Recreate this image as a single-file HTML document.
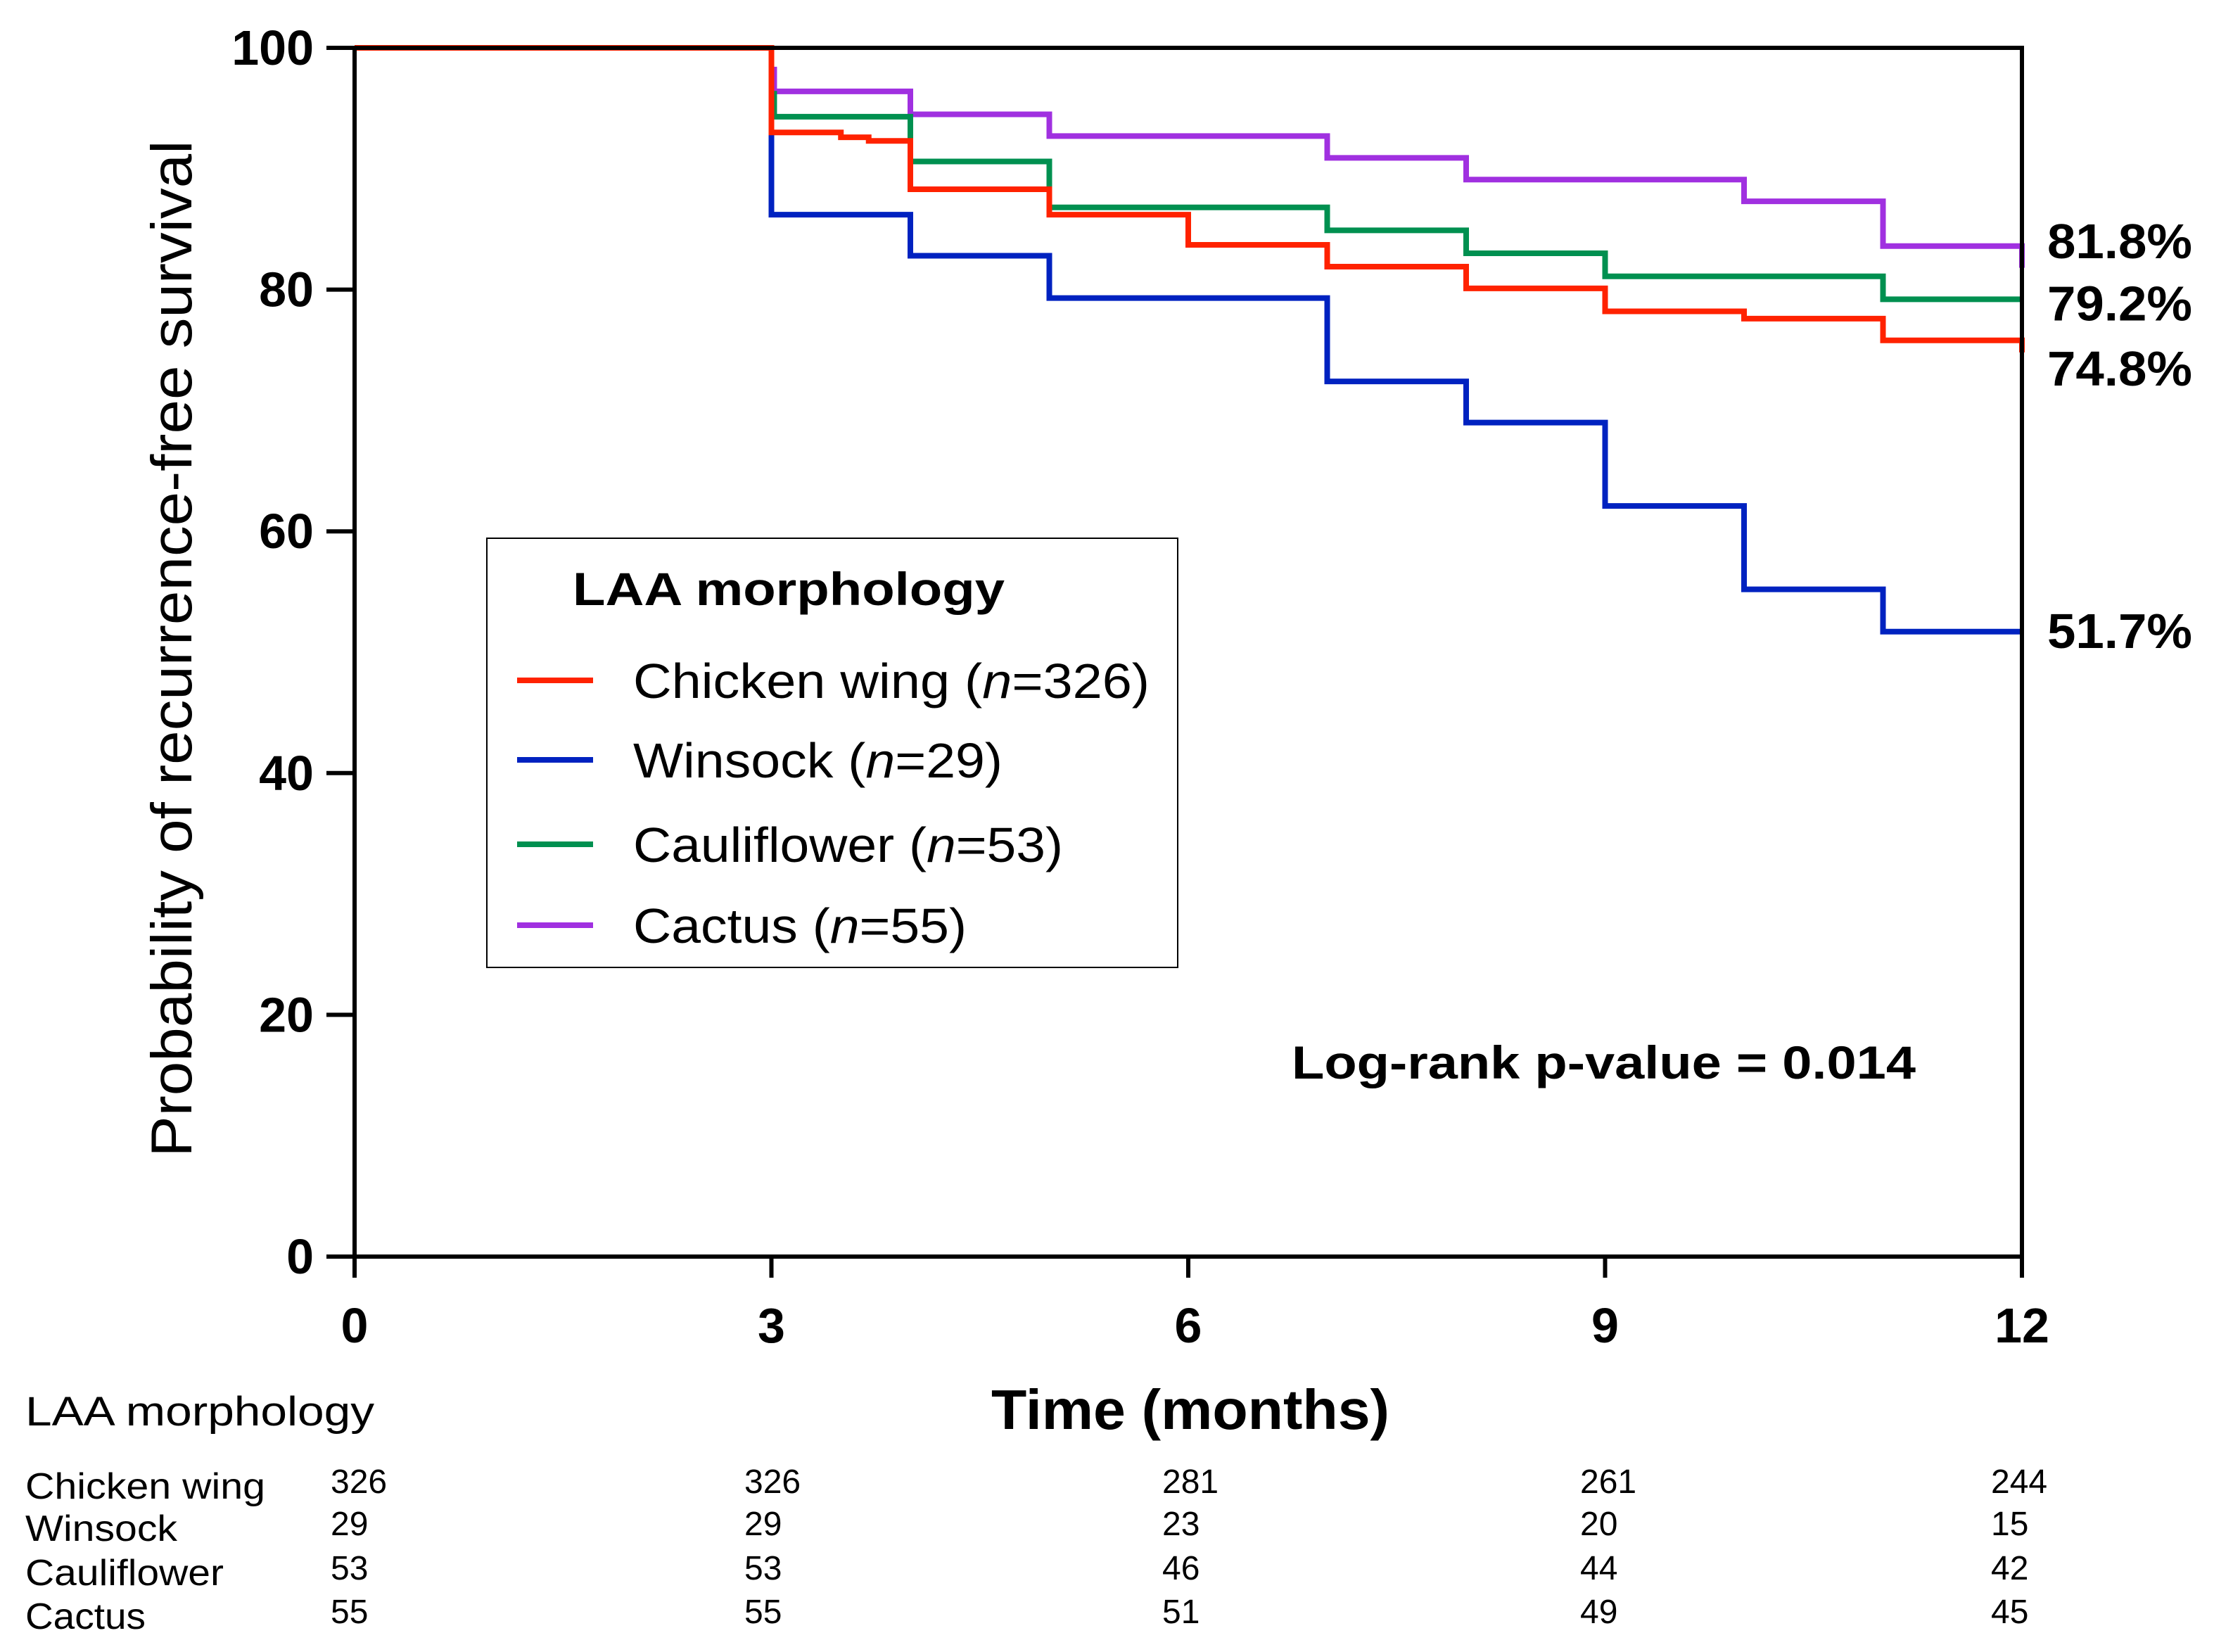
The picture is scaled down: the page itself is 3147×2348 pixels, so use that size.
<!DOCTYPE html>
<html><head><meta charset="utf-8"><style>
html,body{margin:0;padding:0;background:#fff;}
svg{display:block;font-family:"Liberation Sans",sans-serif;}
</style></head><body>
<svg id="chart" width="3147" height="2348" viewBox="0 0 3147 2348" xmlns="http://www.w3.org/2000/svg">
<g id="plot"></g>
</svg>
<script>
const xTicks = [0, 3, 6, 9, 12];
const yTicks = [0, 20, 40, 60, 80, 100];
const seriesNames = ["Chicken wing", "Winsock", "Cauliflower", "Cactus"];
const seriesN = ["326", "29", "53", "55"];
const seriesColors = ["#ff2200", "#0022c0", "#009050", "#a030e0"];
const chickenTimes = [0, 3, 3.5, 3.7, 4, 5, 6, 7, 8, 9, 10, 11, 12];
const chickenVals = [100, 93.0, 92.6, 92.3, 88.3, 86.2, 83.7, 81.9, 80.1, 78.2, 77.6, 75.8, 74.8];
const winsockTimes = [0, 3, 4, 5, 7, 8, 9, 10, 11, 12];
const winsockVals = [100, 86.2, 82.8, 79.3, 72.4, 69.0, 62.1, 55.2, 51.7, 51.7];
const caulTimes = [0, 3, 3.02, 4, 5, 7, 8, 9, 11, 12];
const caulVals = [100, 96.2, 94.3, 90.6, 86.8, 84.9, 83.0, 81.1, 79.2, 79.2];
const cactusTimes = [0, 3, 3.02, 4, 5, 7, 8, 10, 11, 12];
const cactusVals = [100, 98.2, 96.4, 94.5, 92.7, 90.9, 89.1, 87.3, 83.6, 81.8];
const endLabels = ["74.8%", "51.7%", "79.2%", "81.8%"];
const endLabelY = [261, 447, 215, 171];
const riskRows = [["326","326","281","261","244"],["29","29","23","20","15"],["53","53","46","44","42"],["55","55","51","49","45"]];

const NS = "http://www.w3.org/2000/svg";
const L = 504, R = 2874, T = 68, B = 1786;
const xs = t => L + (t / 12) * (R - L);
const ys = v => B - (v / 100) * (B - T);
const g = document.getElementById('plot');
function mk(tag, attrs, txt) {
  const e = document.createElementNS(NS, tag);
  for (const k in attrs) e.setAttribute(k, attrs[k]);
  if (txt !== undefined) e.textContent = txt;
  g.appendChild(e);
  return e;
}
function fit(e, w) { e.setAttribute('textLength', w); e.setAttribute('lengthAdjust', 'spacingAndGlyphs'); }
function stepPath(ts, vs) {
  let d = "M" + xs(ts[0]) + "," + ys(vs[0]);
  for (let i = 1; i < ts.length; i++) {
    d += " H" + xs(ts[i]) + " V" + ys(vs[i]);
  }
  return d;
}
let e;
// series first (under frame)
const allT = [chickenTimes, winsockTimes, caulTimes, cactusTimes];
const allV = [chickenVals, winsockVals, caulVals, cactusVals];
const order = [3, 2, 1, 0];
order.forEach(i => {
  e = mk('path', {d: stepPath(allT[i], allV[i]), fill: 'none', stroke: seriesColors[i], 'stroke-width': 8});
  
  
});
e = mk('rect', {x: L, y: T, width: R - L, height: B - T, fill: 'none', stroke: '#000', 'stroke-width': 6});


yTicks.forEach(v => {
  e = mk('line', {x1: L - 40, x2: L, y1: ys(v), y2: ys(v), stroke: '#000', 'stroke-width': 6});
  
  
  e = mk('text', {x: L - 58, y: ys(v) + 24, 'text-anchor': 'end', 'font-size': 70, 'font-weight': 'bold'}, String(v));
  
  
});
xTicks.forEach(t => {
  e = mk('line', {x1: xs(t), x2: xs(t), y1: B, y2: B + 30, stroke: '#000', 'stroke-width': 6});
  
  
  e = mk('text', {x: xs(t), y: 1908, 'text-anchor': 'middle', 'font-size': 70, 'font-weight': 'bold'}, String(t));
  
  
});
e = mk('text', {x: 0, y: 0, transform: 'translate(272,922) rotate(-90)', 'text-anchor': 'middle', 'font-size': 82}, 'Probability of recurrence-free survival');
fit(e, 1445);


e = mk('text', {x: 1692, y: 2031, 'text-anchor': 'middle', 'font-size': 80, 'font-weight': 'bold'}, 'Time (months)');
fit(e, 566);


endLabels.forEach((s, i) => {
  e = mk('text', {x: 2910, y: endLabelY[i] * 2.007 + 24, 'font-size': 70, 'font-weight': 'bold'}, s);
  fit(e, 206);
  
  
});

// legend
e = mk('rect', {x: 692, y: 765, width: 982, height: 610, fill: '#fff', stroke: '#000', 'stroke-width': 2});


e = mk('text', {x: 814, y: 860, 'font-size': 66, 'font-weight': 'bold'}, 'LAA morphology');
fit(e, 614);


const legY = [967, 1080, 1200, 1315];
const legW = [734, 525, 611, 474];
seriesNames.forEach((n, i) => {
  e = mk('line', {x1: 735, x2: 843, y1: legY[i], y2: legY[i], stroke: seriesColors[i], 'stroke-width': 8});
  
  
  const t = mk('text', {x: 900, y: legY[i] + 25, 'font-size': 70});
  t.innerHTML = n + ' (<tspan font-style="italic">n</tspan>=' + seriesN[i] + ')';
  fit(t, legW[i]);
  
  
});
e = mk('text', {x: 1836, y: 1533, 'font-size': 66, 'font-weight': 'bold'}, 'Log-rank p-value = 0.014');
fit(e, 887);



// risk table
e = mk('text', {x: 36, y: 2026, 'font-size': 58}, 'LAA morphology');
fit(e, 496);


const rowY = [2130, 2190, 2253, 2315];
const rowW = [341, 216, 282, 171];
const colX = [470, 1058, 1652, 2246, 2830];
riskRows.forEach((row, r) => {
  e = mk('text', {x: 36, y: rowY[r], 'font-size': 52}, seriesNames[r]);
  fit(e, rowW[r]);
  
  
  row.forEach((v, c) => {
    e = mk('text', {x: colX[c], y: rowY[r] - 8, 'font-size': 48}, v);
    
    
  });
});
</script>
</body></html>
